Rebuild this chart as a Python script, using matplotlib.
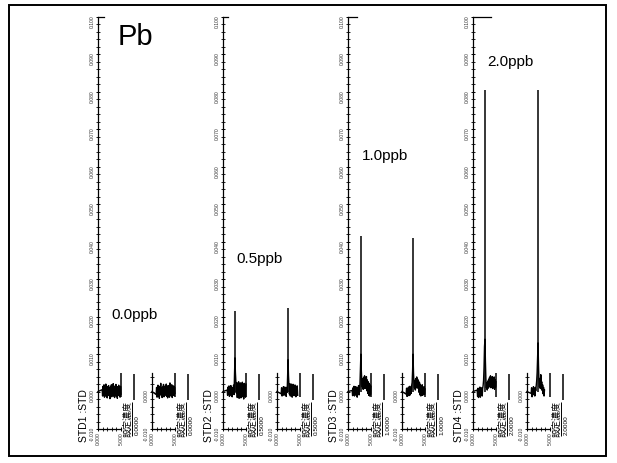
import numpy as np
import matplotlib.pyplot as plt
from matplotlib.ticker import MultipleLocator, FixedLocator, FormatStrFormatter

plt.rcParams['font.family'] = ['Liberation Sans', 'Noto Sans CJK JP', 'DejaVu Sans']

# --- data ---
element = 'Pb'
std_labels = ['STD1 :STD', 'STD2 :STD', 'STD3 :STD', 'STD4 :STD']
conc_labels = ['0.0ppb', '0.5ppb', '1.0ppb', '2.0ppb']
set_conc = ['0.0000', '0.5000', '1.0000', '2.0000']
conc_label_y = [0.0204, 0.0354, 0.0629, 0.0880]

# peak apex (retention time, height) for the two injections of each standard
peak_t_a = [None, 2.6, 2.8, 2.6]
peak_h_a = [None, 0.0216, 0.0414, 0.0804]
peak_t_b = [None, 2.4, 2.4, 2.4]
peak_h_b = [None, 0.0224, 0.0410, 0.0806]

# baseline sampled every 0.1 from t = 0.9 (values in 1e-3)
t_base = np.linspace(0.9, 5.0, 42)
std1_a = [0.5, -1.2, 1.4, -0.7, 1.8, -1.5, 0.9, -0.4, 2.0, -1.3, 0.6, -1.7, 1.3, -0.5,
          1.6, -1.1, 0.8, -1.9, 1.2, -0.3, 1.8, -1.4, 0.7, -1.0, 2.1, -1.2, 1.0, -1.6,
          1.5, -0.6, 1.9, -1.3, 0.4, -1.8, 1.3, -0.9, 1.7, -1.1, 1.0, -1.5, 1.4, -0.7]
std1_b = [-0.8, 1.1, -1.5, 0.6, 1.7, -1.2, 0.3, -1.8, 1.4, -0.5, 2.2, -1.0, 0.7, -1.6,
          1.2, -0.2, 1.9, -1.4, 0.9, -1.1, 1.5, -0.6, 2.0, -1.3, 0.4, -1.7, 1.6, -0.8,
          1.1, -1.5, 2.3, -0.9, 0.6, -1.2, 1.8, -1.6, 0.8, -0.4, 1.5, -1.1, 1.2, -0.5]
std2_a = [0.4, -1.0, 1.2, -0.6, 1.5, -1.3, 0.8, -0.2, 1.6, -1.1, 0.5, -1.4, 1.0, -0.3,
          1.7, -0.8, 4.5, 9.0, 5.0, 2.6, -0.4, 2.4, -1.6, 1.9, -0.9, 2.6, -1.8, 1.4,
          -0.5, 2.3, -1.7, 1.8, -0.8, 2.5, -1.4, 1.1, -2.0, 2.2, -0.6, 1.7, -1.5, 2.0]
std2_b = [-0.6, 1.0, -1.2, 0.7, -0.3, 1.3, -1.0, 0.5, 1.2, -0.8, 0.9, -1.3, 1.1, -0.2,
          3.8, 8.5, 4.2, 1.8, -0.7, 2.1, -1.2, 1.6, -0.4, 2.0, -1.5, 1.2, -0.6, 1.9,
          -1.1, 1.4, -0.3, 1.7, -1.4, 0.9, -0.5, 1.5, -1.0]
std3_a = [0.3, -1.1, 1.0, -0.5, 1.4, -1.2, 0.6, -0.8, 1.3, -1.0, 0.4, -1.5, 1.1, -0.4,
          1.6, -0.9, 0.8, 2.0, 6.0, 10.0, 5.5, 3.0, 1.2, 3.4, 0.6, 3.8, 1.0, 4.2,
          0.8, 3.6, 1.5, 4.0, 0.2, 3.1, -0.5, 2.6, -1.0, 2.2, -1.2, 1.8, -0.8, 1.4]
std3_b = [-0.7, 0.9, -1.3, 0.5, -0.2, 1.2, -1.1, 0.6, 1.4, -0.9, 0.8, -0.5, 1.6, 2.4,
          5.5, 10.0, 5.0, 2.5, 1.0, 3.0, 0.4, 3.5, 1.2, 3.9, 0.9, 3.3, 1.4, 2.8,
          -0.2, 2.4, -0.9, 1.9, -1.2, 1.5, -0.6, 1.8, -1.0, 1.1, -0.4, 1.3, -0.8, 0.7]
std4_a = [0.4, -1.3, 0.9, -1.6, 0.7, -0.9, 1.2, -1.5, 0.5, -0.7, 1.0, -1.2, 0.8, 1.6,
          3.0, 6.5, 12.0, 14.0, 8.0, 3.5, 1.0, 2.2, 0.4, 2.8, 0.9, 3.3, 1.2, 3.8,
          1.8, 4.2, 1.0, 3.6, 2.2, 4.0, 0.8, 3.4, 1.5, 3.9, 0.6, 3.2, 1.1, 2.6]
std4_b = [-0.5, 1.0, -1.4, 0.6, -0.9, 1.3, -0.3, 0.8, -1.2, 1.1, 0.2, 1.5, 2.8, 5.0,
          9.0, 13.0, 7.0, 3.0, 1.2, 3.5, 0.8, 4.5, 1.5, 2.6, 0.3, 1.8, -0.6, 1.1,
          -1.2, 0.4]
traces = [(std1_a, std1_b), (std2_a, std2_b), (std3_a, std3_b), (std4_a, std4_b)]
top_tick = [1.3, 1.0, 2.0, 4.0]

# --- layout (pixels of a 617x463 page) ---
W, H = 617, 463
panel_x = [98, 223, 348, 473]
sub_dx = 54
sub_w = 23
y_top, y_bot = 17, 429

fig = plt.figure(figsize=(W / 100, H / 100), dpi=100)
fig.add_artist(plt.Rectangle((9 / W, 1 - 456 / H), 597 / W, 451 / H, fill=False,
                             lw=1.4, color='black', transform=fig.transFigure))

tick_fs = 3.6


def style_axes(ax, full):
    ax.set_xlim(0, 5)
    ax.set_ylim(-0.010, 0.100)
    ax.patch.set_alpha(0)
    for s in ['top', 'right']:
        ax.spines[s].set_visible(False)
    ax.spines['left'].set_linewidth(0.9)
    ax.spines['bottom'].set_linewidth(0.9)
    ax.xaxis.set_major_locator(FixedLocator([0, 5]))
    ax.xaxis.set_minor_locator(FixedLocator([1, 2, 3, 4]))
    ax.xaxis.set_major_formatter(FormatStrFormatter('%.3f'))
    if full:
        ax.yaxis.set_major_locator(MultipleLocator(0.010))
        ax.yaxis.set_minor_locator(MultipleLocator(0.002))
    else:
        ax.spines['left'].set_bounds(-0.010, 0.005)
        ax.yaxis.set_major_locator(FixedLocator([-0.010, 0.000]))
        ax.yaxis.set_minor_locator(FixedLocator([-0.008, -0.006, -0.004, -0.002, 0.002, 0.004]))
    ax.yaxis.set_major_formatter(FormatStrFormatter('%.3f'))
    ax.tick_params(which='major', direction='inout', length=3, width=0.7,
                   labelsize=tick_fs, pad=1, labelcolor='#333333')
    ax.tick_params(which='minor', direction='inout', length=2.2, width=0.6)
    ax.tick_params(axis='both', which='major', labelrotation=90)


for i in range(4):
    for j in range(2):
        x0 = panel_x[i] + j * sub_dx
        ax = fig.add_axes([x0 / W, 1 - y_bot / H, sub_w / W, (y_bot - y_top) / H])
        style_axes(ax, full=(j == 0))

        noise = np.array(traces[i][j]) / 1000
        t = t_base[:len(noise)]
        ax.plot(np.r_[0, t], np.r_[0, noise], color='black', lw=1.0, clip_on=False)

        pt = (peak_t_a if j == 0 else peak_t_b)[i]
        ph = (peak_h_a if j == 0 else peak_h_b)[i]
        if pt is not None:
            ax.vlines(pt, 0, ph, color='black', lw=1.1, clip_on=False)

        # end-of-run marker and the concentration field
        ax.vlines(5.0, -0.0015, 0.005, color='black', lw=1.1, clip_on=False)
        ax.vlines(7.8, -0.0023, 0.0048, color='black', lw=1.1, clip_on=False)
        ax.text(6.6, -0.0072, '設定濃度', rotation=90, fontsize=6.5,
                ha='center', va='center', clip_on=False)
        ax.vlines(7.35, -0.0118, -0.0028, color='black', lw=0.7, clip_on=False)
        ax.text(8.6, -0.0089, set_conc[i], rotation=90, fontsize=4.6,
                ha='center', va='center', clip_on=False)

        if j == 0:
            ax.plot([0, top_tick[i]], [0.100, 0.100], color='black', lw=0.9, clip_on=False)
            ax.text(-3.0, -0.0065, std_labels[i], rotation=90, fontsize=7.5,
                    ha='center', va='center', clip_on=False)
            ax.text(3.0, conc_label_y[i], conc_labels[i], fontsize=11,
                    ha='left', va='center', clip_on=False)
            if i == 0:
                ax.text(4.35, 0.0947, element, fontsize=21,
                        ha='left', va='center', clip_on=False)

fig.savefig('out.png', dpi=100)
